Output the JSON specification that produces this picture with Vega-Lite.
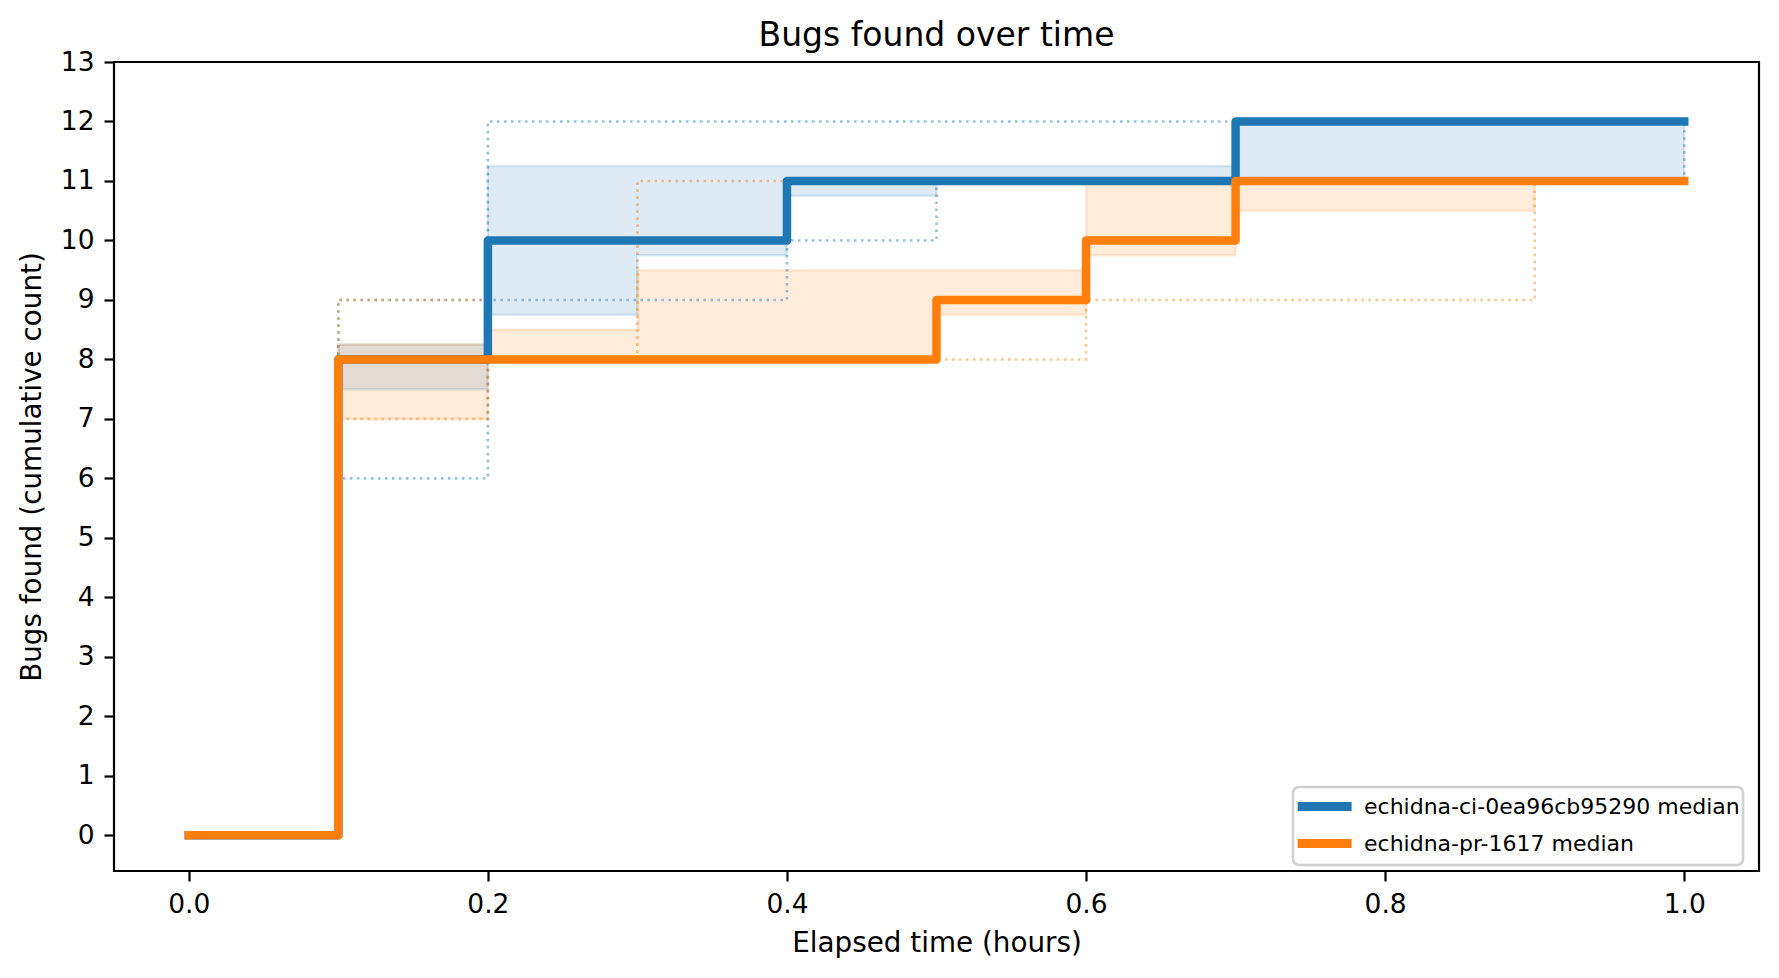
{
  "$schema": "https://vega.github.io/schema/vega-lite/v6.json",
  "width": 1645,
  "height": 809,
  "autosize": "none",
  "padding": {"left": 114, "top": 62, "right": 20, "bottom": 107},
  "background": "white",
  "title": {
    "text": "Bugs found over time",
    "font": "DejaVu Sans",
    "fontSize": 33,
    "fontWeight": "normal",
    "color": "black",
    "anchor": "middle",
    "baseline": "alphabetic",
    "frame": "group",
    "offset": 17,
    "dy": 47
  },
  "data": {
    "values": [
      {"series": "echidna-ci-0ea96cb95290 median", "t": 0.0, "med": 0, "q1": 0, "q3": 0, "lo": 0, "hi": 0},
      {"series": "echidna-ci-0ea96cb95290 median", "t": 0.1, "med": 8, "q1": 7.5, "q3": 8.25, "lo": 6, "hi": 9},
      {"series": "echidna-ci-0ea96cb95290 median", "t": 0.2, "med": 10, "q1": 8.75, "q3": 11.25, "lo": 9, "hi": 12},
      {"series": "echidna-ci-0ea96cb95290 median", "t": 0.3, "med": 10, "q1": 9.75, "q3": 11.25, "lo": 9, "hi": 12},
      {"series": "echidna-ci-0ea96cb95290 median", "t": 0.4, "med": 11, "q1": 10.75, "q3": 11.25, "lo": 10, "hi": 12},
      {"series": "echidna-ci-0ea96cb95290 median", "t": 0.5, "med": 11, "q1": 11, "q3": 11.25, "lo": 11, "hi": 12},
      {"series": "echidna-ci-0ea96cb95290 median", "t": 0.6, "med": 11, "q1": 11, "q3": 11.25, "lo": 11, "hi": 12},
      {"series": "echidna-ci-0ea96cb95290 median", "t": 0.7, "med": 12, "q1": 11, "q3": 12, "lo": 11, "hi": 12},
      {"series": "echidna-ci-0ea96cb95290 median", "t": 0.8, "med": 12, "q1": 11, "q3": 12, "lo": 11, "hi": 12},
      {"series": "echidna-ci-0ea96cb95290 median", "t": 0.9, "med": 12, "q1": 11, "q3": 12, "lo": 11, "hi": 12},
      {"series": "echidna-ci-0ea96cb95290 median", "t": 1.0, "med": 12, "q1": 12, "q3": 12, "lo": 12, "hi": 12},
      {"series": "echidna-pr-1617 median", "t": 0.0, "med": 0, "q1": 0, "q3": 0, "lo": 0, "hi": 0},
      {"series": "echidna-pr-1617 median", "t": 0.1, "med": 8, "q1": 7, "q3": 8.25, "lo": 7, "hi": 9},
      {"series": "echidna-pr-1617 median", "t": 0.2, "med": 8, "q1": 8, "q3": 8.5, "lo": 8, "hi": 8},
      {"series": "echidna-pr-1617 median", "t": 0.3, "med": 8, "q1": 8, "q3": 9.5, "lo": 8, "hi": 11},
      {"series": "echidna-pr-1617 median", "t": 0.4, "med": 8, "q1": 8, "q3": 9.5, "lo": 8, "hi": 11},
      {"series": "echidna-pr-1617 median", "t": 0.5, "med": 9, "q1": 8.75, "q3": 9.5, "lo": 8, "hi": 11},
      {"series": "echidna-pr-1617 median", "t": 0.6, "med": 10, "q1": 9.75, "q3": 11, "lo": 9, "hi": 11},
      {"series": "echidna-pr-1617 median", "t": 0.7, "med": 11, "q1": 10.5, "q3": 11, "lo": 9, "hi": 11},
      {"series": "echidna-pr-1617 median", "t": 0.8, "med": 11, "q1": 10.5, "q3": 11, "lo": 9, "hi": 11},
      {"series": "echidna-pr-1617 median", "t": 0.9, "med": 11, "q1": 11, "q3": 11, "lo": 11, "hi": 11},
      {"series": "echidna-pr-1617 median", "t": 1.0, "med": 11, "q1": null, "q3": null, "lo": null, "hi": null}
    ]
  },
  "encoding": {
    "x": {
      "field": "t",
      "type": "quantitative",
      "scale": {"domain": [-0.05, 1.05], "nice": false, "zero": false},
      "axis": {
        "title": "Elapsed time (hours)",
        "values": [0, 0.2, 0.4, 0.6, 0.8, 1.0],
        "format": ".1f",
        "titleX": 822.5,
        "titleY": 80,
        "titleBaseline": "alphabetic",
        "titleAlign": "center",
        "labelPadding": 10
      }
    },
    "color": {
      "field": "series",
      "type": "nominal",
      "scale": {"domain": ["echidna-ci-0ea96cb95290 median", "echidna-pr-1617 median"], "range": ["#1f77b4", "#ff7f0e"]},
      "legend": {
        "title": null,
        "orient": "none",
        "legendX": 1179,
        "legendY": 725,
        "symbolType": "M-1.24,0H3.26",
        "symbolSize": 576,
        "symbolStrokeWidth": 9,
        "symbolOpacity": 1,
        "labelFontSize": 22,
        "labelFont": "DejaVu Sans",
        "labelColor": "black",
        "labelLimit": 600,
        "labelOffset": 35,
        "rowPadding": 0,
        "padding": 3,
        "strokeColor": "#d0d0d0",
        "fillColor": "white",
        "cornerRadius": 6,
        "encode": {"legend": {"update": {"strokeWidth": {"value": 2.5}}}}
      }
    }
  },
  "layer": [
    {
      "transform": [{"filter": "isValid(datum.q1)"}],
      "mark": {"type": "area", "interpolate": "step-after", "fillOpacity": 0.15, "strokeOpacity": 0.15, "strokeWidth": 2.5},
      "encoding": {
        "y": {"field": "q1", "type": "quantitative"},
        "y2": {"field": "q3"},
        "stroke": {"field": "series", "type": "nominal", "scale": {"domain": ["echidna-ci-0ea96cb95290 median", "echidna-pr-1617 median"], "range": ["#1f77b4", "#ff7f0e"]}, "legend": null},
        "detail": {"field": "series"}
      }
    },
    {
      "transform": [{"filter": "isValid(datum.lo)"}],
      "mark": {"type": "line", "interpolate": "step-after", "strokeWidth": 2.6, "strokeDash": [2.6, 4.4], "opacity": 0.45},
      "encoding": {
        "y": {"field": "lo", "type": "quantitative"},
        "detail": {"field": "series"}
      }
    },
    {
      "transform": [{"filter": "isValid(datum.hi)"}],
      "mark": {"type": "line", "interpolate": "step-after", "strokeWidth": 2.6, "strokeDash": [2.6, 4.4], "opacity": 0.45},
      "encoding": {
        "y": {"field": "hi", "type": "quantitative"},
        "detail": {"field": "series"}
      }
    },
    {
      "mark": {"type": "line", "interpolate": "step-after", "strokeWidth": 8.5, "strokeJoin": "round", "strokeCap": "square"},
      "encoding": {
        "y": {
          "field": "med",
          "type": "quantitative",
          "scale": {"domain": [-0.6, 13], "nice": false, "zero": false},
          "axis": {
            "title": "Bugs found (cumulative count)",
            "values": [0, 1, 2, 3, 4, 5, 6, 7, 8, 9, 10, 11, 12, 13],
            "format": "d",
            "titleX": -74,
            "titleY": 404.5,
            "titleAngle": 270,
            "titleBaseline": "alphabetic",
            "titleAlign": "center",
            "labelPadding": 10
          }
        }
      }
    }
  ],
  "resolve": {"scale": {"y": "shared"}},
  "config": {
    "font": "DejaVu Sans",
    "view": {"stroke": "black", "strokeWidth": 2.2},
    "axis": {
      "grid": false,
      "domain": false,
      "tickColor": "black",
      "tickWidth": 2.2,
      "tickSize": 10,
      "labelFont": "DejaVu Sans",
      "labelFontSize": 26.5,
      "labelColor": "black",
      "titleFont": "DejaVu Sans",
      "titleFontSize": 27.8,
      "titleFontWeight": "normal",
      "titleColor": "black"
    }
  }
}
